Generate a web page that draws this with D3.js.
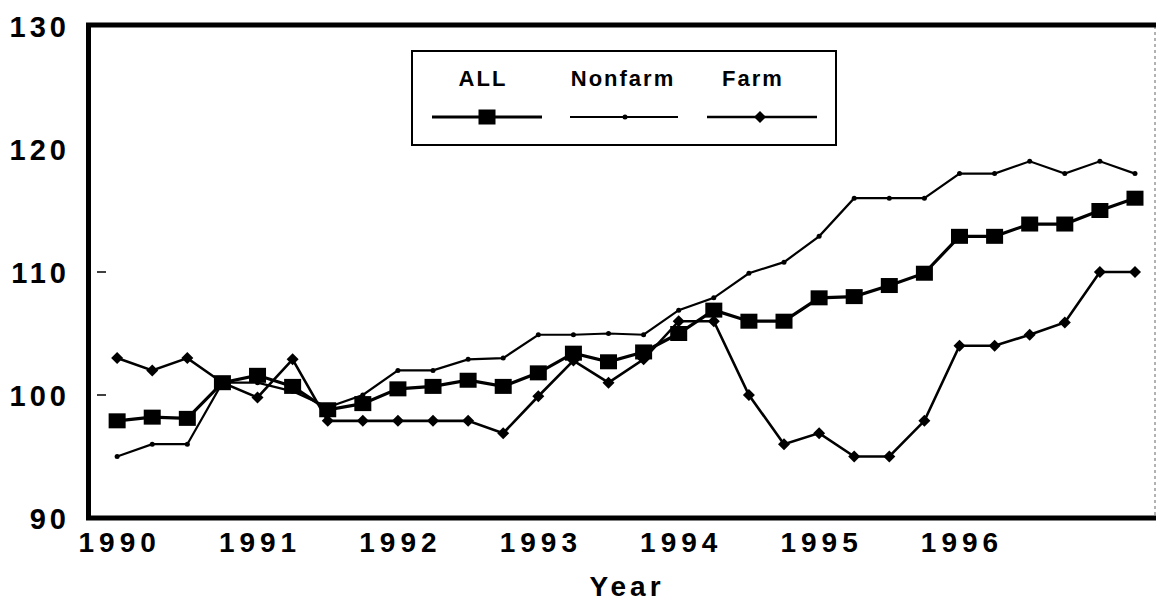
<!DOCTYPE html>
<html><head><meta charset="utf-8">
<script src="https://cdn.jsdelivr.net/npm/d3@7"></script>
<style>
html,body{margin:0;padding:0;background:#fff;}
text{font-family:"Liberation Sans",Arial,sans-serif;font-weight:bold;fill:#000;}
</style></head>
<body><svg id="c" width="1156" height="601"></svg>
<script>
const quarters = ["1990Q1","1990Q2","1990Q3","1990Q4","1991Q1","1991Q2","1991Q3","1991Q4",
"1992Q1","1992Q2","1992Q3","1992Q4","1993Q1","1993Q2","1993Q3","1993Q4",
"1994Q1","1994Q2","1994Q3","1994Q4","1995Q1","1995Q2","1995Q3","1995Q4",
"1996Q1","1996Q2","1996Q3","1996Q4","1997Q1","1997Q2"];
const allValues = [97.9,98.2,98.1,101.0,101.6,100.7,98.8,99.3,100.5,100.7,101.2,100.7,101.8,103.4,102.7,103.5,
105.0,106.9,106.0,106.0,107.9,108.0,108.9,109.9,112.9,112.9,113.9,113.9,115.0,116.0];
const nonfarmValues = [95.0,96.0,96.0,101.0,101.0,100.3,99.0,100.0,102.0,102.0,102.9,103.0,104.9,104.9,105.0,104.9,
106.9,107.9,109.9,110.8,112.9,116.0,116.0,116.0,118.0,118.0,119.0,118.0,119.0,118.0];
const farmValues = [103.0,102.0,103.0,101.0,99.8,102.9,97.9,97.9,97.9,97.9,97.9,96.9,99.9,102.8,101.0,102.9,
106.0,106.0,100.0,96.0,96.9,95.0,95.0,97.9,104.0,104.0,104.9,105.9,110.0,110.0];
const yearLabels = ["1990","1991","1992","1993","1994","1995","1996"];
const yTicks = [90,100,110,120,130];
const seriesNames = ["ALL","Nonfarm","Farm"];

const svg = d3.select("#c");
const L = 88, R = 1155, T = 26, B = 518;
const x = d3.scaleLinear().domain([-0.83, 29.57]).range([L, R]);
const y = d3.scaleLinear().domain([90,130]).range([B, T]);

// frame
svg.append("line").attr("x1",R).attr("x2",R).attr("y1",T).attr("y2",B).attr("stroke","#999").attr("stroke-width",1.5).attr("stroke-dasharray","3,3");
svg.append("line").attr("x1",L-2).attr("x2",1156).attr("y1",T-1).attr("y2",T-1).attr("stroke","#000").attr("stroke-width",5);

// y axis
const yAxis = d3.axisLeft(y).tickValues(yTicks).tickSize(0).tickPadding(18).tickFormat(d3.format("d"));
const gy = svg.append("g").attr("transform",`translate(${L},0)`).call(yAxis);
gy.select(".domain").attr("stroke","#000").attr("stroke-width",5);
gy.selectAll("text").style("font-size","29px").style("letter-spacing","4px").attr("dy","0.36em");
svg.append("g").selectAll("line").data([100,110]).join("line")
  .attr("x1",L+9).attr("x2",L+18).attr("y1",d=>y(d)).attr("y2",d=>y(d)).attr("stroke","#000").attr("stroke-width",1.5);

// x axis
const xAxis = d3.axisBottom(x).tickValues(yearLabels.map((d,i)=>i*4)).tickFormat((d,i)=>yearLabels[i]).tickSize(0).tickPadding(14);
const gx = svg.append("g").attr("transform",`translate(0,${B})`).call(xAxis);
gx.select(".domain").attr("stroke","#000").attr("stroke-width",5).attr("d",`M${L-2},0H1156`);
gx.selectAll("text").style("font-size","28px").style("letter-spacing","5px").attr("dx","2px");
svg.append("text").attr("x",627).attr("y",596).attr("text-anchor","middle").style("font-size","28px").style("letter-spacing","4px").text("Year");

const line = d3.line().x((d,i)=>x(i)).y(d=>y(d));
const diamond = d3.symbol().type(d3.symbolSquare).size(72);

// Nonfarm
svg.append("path").datum(nonfarmValues).attr("d",line).attr("fill","none").attr("stroke","#000").attr("stroke-width",2.2);
svg.append("g").selectAll("circle").data(nonfarmValues).join("circle")
  .attr("cx",(d,i)=>x(i)).attr("cy",d=>y(d)).attr("r",2.5).attr("fill","#000");
// Farm
svg.append("path").datum(farmValues).attr("d",line).attr("fill","none").attr("stroke","#000").attr("stroke-width",2.6);
svg.append("g").selectAll("path").data(farmValues).join("path")
  .attr("d",diamond).attr("transform",(d,i)=>`translate(${x(i)},${y(d)}) rotate(45)`).attr("fill","#000");
// ALL
svg.append("path").datum(allValues).attr("d",line).attr("fill","none").attr("stroke","#000").attr("stroke-width",3.2);
svg.append("g").selectAll("rect").data(allValues).join("rect")
  .attr("x",(d,i)=>x(i)-8.5).attr("y",d=>y(d)-7.5).attr("width",17).attr("height",15).attr("fill","#000");

// legend
const lg = svg.append("g");
lg.append("rect").attr("x",412).attr("y",51).attr("width",424).attr("height",94).attr("fill","#fff").attr("stroke","#000").attr("stroke-width",2);
const legendItems = [
  {name:seriesNames[0], tx:483, x1:432, x2:542, mx:487, kind:"square"},
  {name:seriesNames[1], tx:623, x1:570, x2:678, mx:625, kind:"dot"},
  {name:seriesNames[2], tx:753, x1:707, x2:817, mx:760, kind:"diamond"}
];
legendItems.forEach(it=>{
  lg.append("text").attr("x",it.tx).attr("y",86).attr("text-anchor","middle").style("font-size","22px").style("letter-spacing","2px").text(it.name);
  lg.append("line").attr("x1",it.x1).attr("x2",it.x2).attr("y1",117).attr("y2",117).attr("stroke","#000")
    .attr("stroke-width",it.kind==="square"?3.2:(it.kind==="dot"?2.2:2.6));
  if(it.kind==="square") lg.append("rect").attr("x",it.mx-8.5).attr("y",117-7.5).attr("width",17).attr("height",15).attr("fill","#000");
  else if(it.kind==="dot") lg.append("circle").attr("cx",it.mx).attr("cy",117).attr("r",2.5).attr("fill","#000");
  else lg.append("path").attr("d",diamond).attr("transform",`translate(${it.mx},117) rotate(45)`).attr("fill","#000");
});
</script></body></html>
